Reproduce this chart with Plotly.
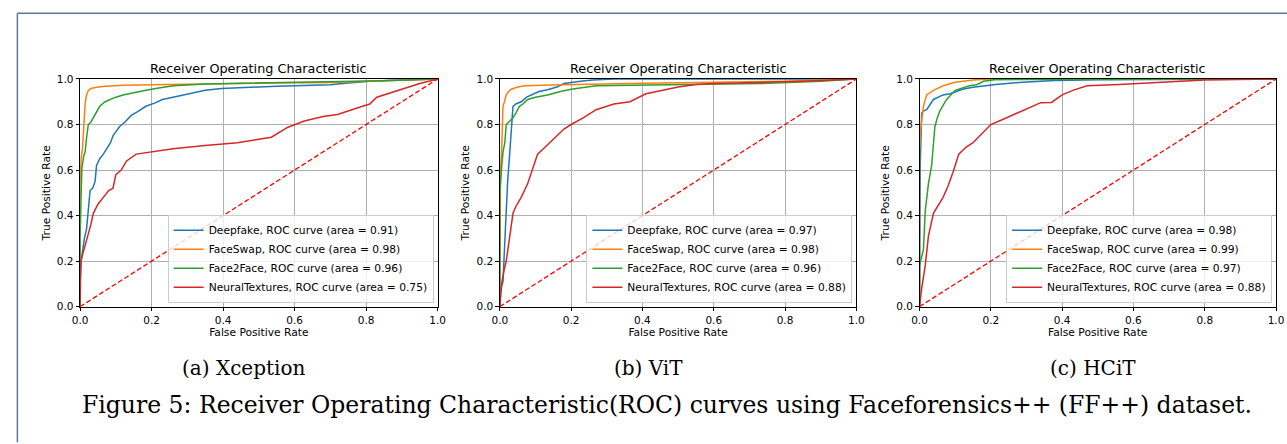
import plotly.graph_objects as go

W, H = 1287, 444

# ---------------- data ----------------
models = ["Xception", "ViT", "HCiT"]
captions = ["(a) Xception", "(b) ViT", "(c) HCiT"]
classes = ["Deepfake", "FaceSwap", "Face2Face", "NeuralTextures"]
colors = ["#1f77b4", "#ff7f0e", "#2ca02c", "#d62728"]

auc_xception = [0.91, 0.98, 0.96, 0.75]
auc_vit = [0.97, 0.98, 0.96, 0.88]
auc_hcit = [0.98, 0.99, 0.97, 0.88]

# Xception
x_df_fpr = [0, 0, 0.003, 0.008, 0.012, 0.018, 0.022, 0.028, 0.035, 0.042, 0.046, 0.055, 0.065, 0.074, 0.085, 0.092, 0.1, 0.11, 0.125, 0.143, 0.16, 0.184, 0.21, 0.23, 0.26, 0.304, 0.35, 0.396, 0.45, 0.5, 0.55, 0.627, 0.70, 0.75, 0.81, 0.87, 0.93, 1.0]
x_df_tpr = [0, 0.1, 0.2, 0.26, 0.3, 0.34, 0.42, 0.51, 0.52, 0.55, 0.62, 0.65, 0.67, 0.69, 0.72, 0.75, 0.77, 0.79, 0.81, 0.84, 0.855, 0.88, 0.895, 0.91, 0.92, 0.935, 0.95, 0.958, 0.963, 0.965, 0.968, 0.97, 0.975, 0.982, 0.99, 0.994, 0.997, 1.0]
x_fs_fpr = [0, 0, 0.003, 0.007, 0.01, 0.014, 0.018, 0.023, 0.03, 0.046, 0.07, 0.12, 0.2, 0.26, 0.4, 0.53, 0.7, 0.85, 1.0]
x_fs_tpr = [0, 0.55, 0.65, 0.7, 0.78, 0.89, 0.93, 0.95, 0.958, 0.964, 0.968, 0.972, 0.975, 0.976, 0.978, 0.98, 0.985, 0.992, 1.0]
x_f2f_fpr = [0, 0, 0.003, 0.005, 0.01, 0.014, 0.018, 0.023, 0.03, 0.037, 0.045, 0.055, 0.07, 0.083, 0.1, 0.12, 0.15, 0.184, 0.22, 0.26, 0.35, 0.5, 0.72, 0.85, 1.0]
x_f2f_tpr = [0, 0.3, 0.5, 0.61, 0.66, 0.68, 0.74, 0.80, 0.81, 0.83, 0.85, 0.88, 0.9, 0.91, 0.92, 0.93, 0.94, 0.95, 0.96, 0.97, 0.978, 0.982, 0.986, 0.992, 1.0]
x_nt_fpr = [0, 0.001, 0.002, 0.009, 0.02, 0.03, 0.037, 0.05, 0.065, 0.08, 0.092, 0.1, 0.115, 0.13, 0.157, 0.18, 0.2, 0.26, 0.35, 0.44, 0.5, 0.535, 0.58, 0.627, 0.68, 0.72, 0.79, 0.81, 0.83, 0.86, 0.885, 0.95, 1.0]
x_nt_tpr = [0, 0.1, 0.2, 0.24, 0.3, 0.36, 0.41, 0.45, 0.48, 0.51, 0.52, 0.58, 0.6, 0.64, 0.67, 0.675, 0.68, 0.694, 0.708, 0.72, 0.735, 0.744, 0.787, 0.815, 0.835, 0.844, 0.88, 0.89, 0.92, 0.935, 0.95, 0.98, 1.0]

# ViT
v_df_fpr = [0, 0, 0.005, 0.009, 0.013, 0.018, 0.022, 0.028, 0.032, 0.037, 0.045, 0.06, 0.075, 0.088, 0.11, 0.134, 0.16, 0.18, 0.2, 0.226, 0.26, 0.29, 0.32, 1.0]
v_df_tpr = [0, 0.08, 0.09, 0.11, 0.25, 0.42, 0.55, 0.68, 0.78, 0.88, 0.89, 0.9, 0.92, 0.93, 0.945, 0.953, 0.965, 0.98, 0.985, 0.99, 0.995, 0.997, 1.0, 1.0]
v_fs_fpr = [0, 0, 0.002, 0.005, 0.009, 0.013, 0.018, 0.025, 0.032, 0.05, 0.07, 0.12, 0.18, 0.365, 0.6, 0.8, 1.0]
v_fs_tpr = [0, 0.4, 0.6, 0.68, 0.88, 0.9, 0.93, 0.945, 0.955, 0.965, 0.97, 0.972, 0.975, 0.98, 0.985, 0.99, 1.0]
v_f2f_fpr = [0, 0, 0.005, 0.009, 0.014, 0.018, 0.025, 0.037, 0.045, 0.055, 0.065, 0.078, 0.1, 0.134, 0.17, 0.2, 0.27, 0.457, 0.73, 0.9, 1.0]
v_f2f_tpr = [0, 0.5, 0.61, 0.68, 0.72, 0.80, 0.81, 0.83, 0.85, 0.88, 0.89, 0.91, 0.92, 0.93, 0.945, 0.955, 0.97, 0.975, 0.98, 0.99, 1.0]
v_nt_fpr = [0, 0.003, 0.006, 0.012, 0.018, 0.028, 0.037, 0.045, 0.06, 0.078, 0.09, 0.106, 0.12, 0.134, 0.16, 0.18, 0.2, 0.235, 0.27, 0.3, 0.32, 0.365, 0.39, 0.41, 0.457, 0.5, 0.55, 0.6, 0.73, 0.85, 1.0]
v_nt_tpr = [0, 0.05, 0.11, 0.16, 0.2, 0.31, 0.41, 0.44, 0.48, 0.54, 0.6, 0.67, 0.69, 0.71, 0.75, 0.78, 0.80, 0.83, 0.865, 0.88, 0.89, 0.9, 0.92, 0.935, 0.95, 0.965, 0.976, 0.98, 0.985, 0.99, 1.0]

# HCiT
h_df_fpr = [0, 0, 0.002, 0.006, 0.012, 0.02, 0.03, 0.039, 0.066, 0.085, 0.1, 0.12, 0.15, 0.214, 0.29, 0.38, 0.5, 1.0]
h_df_tpr = [0, 0.3, 0.62, 0.85, 0.86, 0.865, 0.89, 0.91, 0.93, 0.935, 0.943, 0.955, 0.964, 0.976, 0.986, 0.993, 0.997, 1.0]
h_fs_fpr = [0, 0, 0.004, 0.008, 0.011, 0.02, 0.03, 0.039, 0.066, 0.1, 0.15, 0.2, 1.0]
h_fs_tpr = [0, 0.68, 0.79, 0.85, 0.88, 0.93, 0.94, 0.95, 0.97, 0.986, 0.996, 1.0, 1.0]
h_f2f_fpr = [0, 0, 0.006, 0.011, 0.016, 0.02, 0.025, 0.034, 0.043, 0.05, 0.057, 0.076, 0.1, 0.14, 0.16, 0.18, 0.21, 1.0]
h_f2f_tpr = [0, 0.18, 0.22, 0.25, 0.42, 0.47, 0.54, 0.62, 0.79, 0.83, 0.86, 0.91, 0.95, 0.97, 0.975, 0.99, 0.997, 1.0]
h_nt_fpr = [0, 0.003, 0.006, 0.016, 0.025, 0.039, 0.05, 0.066, 0.08, 0.094, 0.11, 0.13, 0.15, 0.177, 0.2, 0.23, 0.26, 0.306, 0.34, 0.37, 0.4, 0.43, 0.47, 0.56, 0.66, 0.8, 1.0]
h_nt_tpr = [0, 0.05, 0.08, 0.18, 0.31, 0.41, 0.44, 0.48, 0.53, 0.59, 0.67, 0.7, 0.72, 0.765, 0.80, 0.82, 0.84, 0.87, 0.896, 0.897, 0.93, 0.95, 0.97, 0.976, 0.985, 0.995, 1.0]

diag = [0, 1]

panels = [
    (auc_xception, [(x_df_fpr, x_df_tpr), (x_fs_fpr, x_fs_tpr), (x_f2f_fpr, x_f2f_tpr), (x_nt_fpr, x_nt_tpr)]),
    (auc_vit, [(v_df_fpr, v_df_tpr), (v_fs_fpr, v_fs_tpr), (v_f2f_fpr, v_f2f_tpr), (v_nt_fpr, v_nt_tpr)]),
    (auc_hcit, [(h_df_fpr, h_df_tpr), (h_fs_fpr, h_fs_tpr), (h_f2f_fpr, h_f2f_tpr), (h_nt_fpr, h_nt_tpr)]),
]

# ---------------- layout geometry (pixels) ----------------
ax_left = [73, 498, 923]
ax_right = [435, 859, 1284]
ax_top, ax_bottom = 75, 309

FONT = "DejaVu Sans"
SERIF = "DejaVu Serif"

fig = go.Figure()
layout = dict(
    width=W, height=H, margin=dict(l=0, r=0, t=0, b=0),
    paper_bgcolor="white", plot_bgcolor="white",
    font=dict(family=FONT, size=10.5, color="#000000"),
    showlegend=True,
)

annotations = []
for i, (aucs, curves) in enumerate(panels):
    sfx = "" if i == 0 else str(i + 1)
    xa, ya = "x" + sfx, "y" + sfx
    lg = "legend" + sfx
    for j, (fpr, tpr) in enumerate(curves):
        fig.add_trace(go.Scatter(
            x=fpr, y=tpr, mode="lines", xaxis=xa, yaxis=ya, legend=lg,
            name=f"{classes[j]}, ROC curve (area = {aucs[j]:.2f})",
            line=dict(color=colors[j], width=1.5),
        ))
    fig.add_trace(go.Scatter(
        x=diag, y=diag, mode="lines", xaxis=xa, yaxis=ya, showlegend=False,
        line=dict(color="#ff0000", width=1.3, dash="5px,2.5px"),
    ))
    axis_common = dict(
        range=[0, 1], tick0=0, dtick=0.2, tickformat=".1f",
        showline=True, linecolor="#000000", linewidth=1, mirror=True,
        ticks="outside", ticklen=3.5, tickcolor="#000000", tickwidth=1,
        showgrid=True, gridcolor="#b0b0b0", gridwidth=0.8, zeroline=False,
        tickfont=dict(family=FONT, size=10.5, color="#000000"),
        fixedrange=True,
    )
    layout["xaxis" + sfx] = dict(
        axis_common, domain=[ax_left[i] / W, ax_right[i] / W], anchor=ya,
        title=dict(text="False Positive Rate", font=dict(family=FONT, size=10.7), standoff=2),
    )
    layout["yaxis" + sfx] = dict(
        axis_common, domain=[1 - ax_bottom / H, 1 - ax_top / H], anchor=xa,
        title=dict(text="True Positive Rate", font=dict(family=FONT, size=10.7), standoff=4),
    )
    layout[lg] = dict(
        x=(ax_right[i] - 4) / W, xanchor="right",
        y=1 - (ax_bottom - 4) / H, yanchor="bottom",
        bgcolor="rgba(255,255,255,0.8)", bordercolor="#cccccc", borderwidth=1,
        font=dict(family=FONT, size=10.7, color="#000000"),
        itemwidth=30, tracegroupgap=0,
    )
    cx = (ax_left[i] + ax_right[i]) / 2 / W
    annotations.append(dict(
        text="Receiver Operating Characteristic", xref="paper", yref="paper",
        x=cx, y=1 - 64 / H, xanchor="center", yanchor="middle", showarrow=False,
        font=dict(family=FONT, size=12.8, color="#000000"),
    ))

caption_x = [238, 649, 1099]
for i, c in enumerate(captions):
    annotations.append(dict(
        text=c, xref="paper", yref="paper", x=caption_x[i] / W, y=1 - 372 / H,
        xanchor="center", yanchor="middle", showarrow=False,
        font=dict(family=SERIF, size=20, color="#000000"),
    ))
annotations.append(dict(
    text="Figure 5: Receiver Operating Characteristic(ROC) curves using Faceforensics++ (FF++) dataset.",
    xref="paper", yref="paper", x=667 / W, y=1 - 410 / H,
    xanchor="center", yanchor="middle", showarrow=False,
    font=dict(family=SERIF, size=23.5, color="#000000"),
))
layout["annotations"] = annotations

# page border (top and left edges of the framed figure)
layout["shapes"] = [
    dict(type="line", xref="paper", yref="paper", x0=9.5 / W, x1=1.01, y0=1 - 7.5 / H, y1=1 - 7.5 / H,
         line=dict(color="#5b7a9a", width=1.5)),
    dict(type="line", xref="paper", yref="paper", x0=9.5 / W, x1=9.5 / W, y0=-0.01, y1=1 - 7.5 / H,
         line=dict(color="#5b7a9a", width=1.5)),
]

fig.update_layout(**layout)
fig.write_html(
    "out.html",
    config={"displayModeBar": False, "staticPlot": False},
    post_script="document.body.style.margin='0';document.body.style.overflow='hidden';",
)
